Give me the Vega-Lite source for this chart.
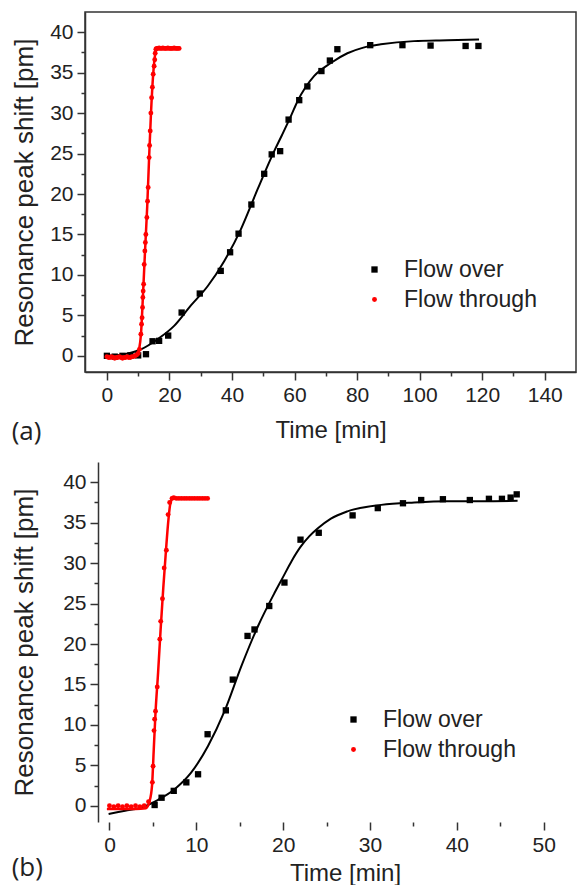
{
  "$schema": "https://vega.github.io/schema/vega-lite/v6.json",
  "padding": {"left": 10, "top": 11, "right": 0, "bottom": 0},
  "autosize": {"type": "pad"},
  "background": "white",
  "spacing": 16,
  "resolve": {
    "scale": {"color": "independent", "shape": "independent", "size": "independent"},
    "legend": {"color": "independent", "shape": "independent", "size": "independent"}
  },
  "config": {
    "view": {"stroke": null},
    "font": "Liberation Sans",
    "axis": {
      "grid": false,
      "domainColor": "#333",
      "domainWidth": 1.5,
      "tickColor": "#333",
      "tickWidth": 1.5,
      "labelFont": "Liberation Sans",
      "labelFontSize": 21,
      "labelColor": "#222",
      "labelOverlap": false,
      "labelFlush": false,
      "titleFont": "Liberation Sans",
      "titleFontSize": 24,
      "titleFontWeight": "normal",
      "titleColor": "#222"
    },
    "legend": {
      "labelFont": "Liberation Sans",
      "labelFontSize": 23,
      "labelColor": "#222"
    }
  },
  "datasets": {
    "a_pts": [
      {"series": "Flow over", "t": 0, "v": 0},
      {"series": "Flow over", "t": 2.5, "v": -0.1},
      {"series": "Flow over", "t": 5, "v": 0},
      {"series": "Flow over", "t": 7.5, "v": 0.05},
      {"series": "Flow over", "t": 10, "v": 0.05},
      {"series": "Flow over", "t": 12.5, "v": 0.2},
      {"series": "Flow over", "t": 14.6, "v": 1.8},
      {"series": "Flow over", "t": 16.7, "v": 1.85},
      {"series": "Flow over", "t": 19.6, "v": 2.5},
      {"series": "Flow over", "t": 23.9, "v": 5.35},
      {"series": "Flow over", "t": 29.7, "v": 7.7},
      {"series": "Flow over", "t": 36.4, "v": 10.5},
      {"series": "Flow over", "t": 39.4, "v": 12.8},
      {"series": "Flow over", "t": 42.1, "v": 15.1},
      {"series": "Flow over", "t": 46.2, "v": 18.7},
      {"series": "Flow over", "t": 50.3, "v": 22.5},
      {"series": "Flow over", "t": 52.7, "v": 24.9},
      {"series": "Flow over", "t": 55.4, "v": 25.3},
      {"series": "Flow over", "t": 58.1, "v": 29.2},
      {"series": "Flow over", "t": 61.5, "v": 31.6},
      {"series": "Flow over", "t": 64.1, "v": 33.3},
      {"series": "Flow over", "t": 68.6, "v": 35.2},
      {"series": "Flow over", "t": 71.3, "v": 36.5},
      {"series": "Flow over", "t": 73.7, "v": 37.9},
      {"series": "Flow over", "t": 84.2, "v": 38.4},
      {"series": "Flow over", "t": 94.5, "v": 38.4},
      {"series": "Flow over", "t": 103.5, "v": 38.35},
      {"series": "Flow over", "t": 114.7, "v": 38.3},
      {"series": "Flow over", "t": 118.8, "v": 38.3},
      {"series": "Flow through", "t": 0, "v": -0.1},
      {"series": "Flow through", "t": 0.5, "v": -0.2},
      {"series": "Flow through", "t": 1, "v": -0.2},
      {"series": "Flow through", "t": 1.5, "v": -0.1},
      {"series": "Flow through", "t": 2, "v": -0.2},
      {"series": "Flow through", "t": 2.5, "v": -0.3},
      {"series": "Flow through", "t": 3, "v": -0.2},
      {"series": "Flow through", "t": 3.5, "v": -0.2},
      {"series": "Flow through", "t": 4, "v": -0.1},
      {"series": "Flow through", "t": 4.5, "v": -0.2},
      {"series": "Flow through", "t": 5, "v": -0.3},
      {"series": "Flow through", "t": 5.5, "v": -0.2},
      {"series": "Flow through", "t": 6, "v": -0.2},
      {"series": "Flow through", "t": 6.5, "v": -0.1},
      {"series": "Flow through", "t": 7, "v": -0.2},
      {"series": "Flow through", "t": 7.5, "v": -0.2},
      {"series": "Flow through", "t": 8, "v": -0.1},
      {"series": "Flow through", "t": 8.5, "v": -0.1},
      {"series": "Flow through", "t": 9, "v": 0},
      {"series": "Flow through", "t": 9.5, "v": 0.1},
      {"series": "Flow through", "t": 10, "v": 0.3},
      {"series": "Flow through", "t": 10.4, "v": 0.8},
      {"series": "Flow through", "t": 10.87, "v": 2.67},
      {"series": "Flow through", "t": 11.08, "v": 3.9},
      {"series": "Flow through", "t": 11.25, "v": 4.7},
      {"series": "Flow through", "t": 11.4, "v": 5.97},
      {"series": "Flow through", "t": 11.5, "v": 7.2},
      {"series": "Flow through", "t": 11.6, "v": 8.0},
      {"series": "Flow through", "t": 11.75, "v": 8.85},
      {"series": "Flow through", "t": 11.93, "v": 11.3},
      {"series": "Flow through", "t": 12.14, "v": 12.96},
      {"series": "Flow through", "t": 12.3, "v": 14.0},
      {"series": "Flow through", "t": 12.46, "v": 15.0},
      {"series": "Flow through", "t": 12.78, "v": 17.1},
      {"series": "Flow through", "t": 13.0, "v": 19.1},
      {"series": "Flow through", "t": 13.2, "v": 20.8},
      {"series": "Flow through", "t": 13.5, "v": 24.5},
      {"series": "Flow through", "t": 13.65, "v": 26.0},
      {"series": "Flow through", "t": 13.85, "v": 27.8},
      {"series": "Flow through", "t": 14.06, "v": 30.0},
      {"series": "Flow through", "t": 14.3, "v": 31.9},
      {"series": "Flow through", "t": 14.55, "v": 33.2},
      {"series": "Flow through", "t": 14.8, "v": 34.8},
      {"series": "Flow through", "t": 15.1, "v": 35.8},
      {"series": "Flow through", "t": 15.3, "v": 36.6},
      {"series": "Flow through", "t": 15.45, "v": 37.4},
      {"series": "Flow through", "t": 15.66, "v": 37.9},
      {"series": "Flow through", "t": 15.9, "v": 38.0},
      {"series": "Flow through", "t": 16.3, "v": 38.0},
      {"series": "Flow through", "t": 16.7, "v": 38.05},
      {"series": "Flow through", "t": 17.1, "v": 38.0},
      {"series": "Flow through", "t": 17.5, "v": 38.0},
      {"series": "Flow through", "t": 17.9, "v": 38.05},
      {"series": "Flow through", "t": 18.3, "v": 38.0},
      {"series": "Flow through", "t": 18.7, "v": 38.0},
      {"series": "Flow through", "t": 19.1, "v": 38.0},
      {"series": "Flow through", "t": 19.5, "v": 38.05},
      {"series": "Flow through", "t": 19.9, "v": 38.0},
      {"series": "Flow through", "t": 20.3, "v": 38.0},
      {"series": "Flow through", "t": 20.7, "v": 38.0},
      {"series": "Flow through", "t": 21.1, "v": 38.0},
      {"series": "Flow through", "t": 21.5, "v": 38.05},
      {"series": "Flow through", "t": 21.9, "v": 38.0},
      {"series": "Flow through", "t": 22.3, "v": 38.0},
      {"series": "Flow through", "t": 22.7, "v": 38.0},
      {"series": "Flow through", "t": 23.1, "v": 38.0}
    ],
    "a_fit": [
      {"series": "Flow over", "t": 0, "v": 0},
      {"series": "Flow over", "t": 5.5, "v": 0.2},
      {"series": "Flow over", "t": 10.9, "v": 0.8},
      {"series": "Flow over", "t": 16.2, "v": 2.05},
      {"series": "Flow over", "t": 21.5, "v": 3.7},
      {"series": "Flow over", "t": 26.8, "v": 6.2},
      {"series": "Flow over", "t": 32.2, "v": 8.6},
      {"series": "Flow over", "t": 37.5, "v": 11.7},
      {"series": "Flow over", "t": 42.8, "v": 15.6},
      {"series": "Flow over", "t": 48.2, "v": 20.6},
      {"series": "Flow over", "t": 53.5, "v": 25.3},
      {"series": "Flow over", "t": 56, "v": 27.3},
      {"series": "Flow over", "t": 58.8, "v": 29.6},
      {"series": "Flow over", "t": 61, "v": 31.5},
      {"series": "Flow over", "t": 66.3, "v": 34.6},
      {"series": "Flow over", "t": 71.6, "v": 36.2},
      {"series": "Flow over", "t": 76.9, "v": 37.4},
      {"series": "Flow over", "t": 82, "v": 38.1},
      {"series": "Flow over", "t": 87.6, "v": 38.5},
      {"series": "Flow over", "t": 98.2, "v": 38.9},
      {"series": "Flow over", "t": 108.9, "v": 39.0},
      {"series": "Flow over", "t": 119, "v": 39.1},
      {"series": "Flow through", "t": 0, "v": -0.2},
      {"series": "Flow through", "t": 5, "v": -0.2},
      {"series": "Flow through", "t": 8.5, "v": -0.15},
      {"series": "Flow through", "t": 9.7, "v": 0.1},
      {"series": "Flow through", "t": 10.3, "v": 0.8},
      {"series": "Flow through", "t": 10.9, "v": 2.7},
      {"series": "Flow through", "t": 11.6, "v": 8.0},
      {"series": "Flow through", "t": 12.2, "v": 13.0},
      {"series": "Flow through", "t": 12.9, "v": 18.5},
      {"series": "Flow through", "t": 13.5, "v": 24.5},
      {"series": "Flow through", "t": 14.1, "v": 30.0},
      {"series": "Flow through", "t": 14.8, "v": 34.8},
      {"series": "Flow through", "t": 15.3, "v": 36.9},
      {"series": "Flow through", "t": 15.7, "v": 37.8},
      {"series": "Flow through", "t": 16.3, "v": 38.0},
      {"series": "Flow through", "t": 23.1, "v": 38.0}
    ],
    "b_pts": [
      {"series": "Flow over", "t": 5.2, "v": 0.1},
      {"series": "Flow over", "t": 6.0, "v": 1.0},
      {"series": "Flow over", "t": 7.4, "v": 1.85},
      {"series": "Flow over", "t": 8.85, "v": 2.9},
      {"series": "Flow over", "t": 10.2, "v": 3.9},
      {"series": "Flow over", "t": 11.3, "v": 8.85},
      {"series": "Flow over", "t": 13.4, "v": 11.8},
      {"series": "Flow over", "t": 14.2, "v": 15.6},
      {"series": "Flow over", "t": 15.9, "v": 21.0},
      {"series": "Flow over", "t": 16.7, "v": 21.8},
      {"series": "Flow over", "t": 18.4, "v": 24.7},
      {"series": "Flow over", "t": 20.15, "v": 27.6},
      {"series": "Flow over", "t": 22.0, "v": 32.9},
      {"series": "Flow over", "t": 24.1, "v": 33.75},
      {"series": "Flow over", "t": 28.0, "v": 35.9},
      {"series": "Flow over", "t": 30.9, "v": 36.8},
      {"series": "Flow over", "t": 33.8, "v": 37.4},
      {"series": "Flow over", "t": 35.9, "v": 37.8},
      {"series": "Flow over", "t": 38.4, "v": 37.9},
      {"series": "Flow over", "t": 41.5, "v": 37.8},
      {"series": "Flow over", "t": 43.7, "v": 37.95},
      {"series": "Flow over", "t": 45.2, "v": 37.95},
      {"series": "Flow over", "t": 46.2, "v": 38.1},
      {"series": "Flow over", "t": 46.9, "v": 38.5},
      {"series": "Flow through", "t": 0, "v": 0},
      {"series": "Flow through", "t": 0.5, "v": -0.1},
      {"series": "Flow through", "t": 1, "v": 0},
      {"series": "Flow through", "t": 1.5, "v": -0.1},
      {"series": "Flow through", "t": 2, "v": 0},
      {"series": "Flow through", "t": 2.5, "v": -0.1},
      {"series": "Flow through", "t": 3, "v": 0},
      {"series": "Flow through", "t": 3.5, "v": -0.1},
      {"series": "Flow through", "t": 4, "v": 0},
      {"series": "Flow through", "t": 4.5, "v": 0.5},
      {"series": "Flow through", "t": 4.94, "v": 2.9},
      {"series": "Flow through", "t": 5.02, "v": 4.9},
      {"series": "Flow through", "t": 5.13, "v": 9.3},
      {"series": "Flow through", "t": 5.2, "v": 10.7},
      {"series": "Flow through", "t": 5.3, "v": 11.7},
      {"series": "Flow through", "t": 5.5, "v": 14.7},
      {"series": "Flow through", "t": 5.8, "v": 20.6},
      {"series": "Flow through", "t": 5.9, "v": 22.8},
      {"series": "Flow through", "t": 6.1, "v": 25.6},
      {"series": "Flow through", "t": 6.3, "v": 29.4},
      {"series": "Flow through", "t": 6.55, "v": 31.6},
      {"series": "Flow through", "t": 6.75, "v": 36.0},
      {"series": "Flow through", "t": 6.93, "v": 37.5},
      {"series": "Flow through", "t": 7.2, "v": 38.0},
      {"series": "Flow through", "t": 7.4, "v": 38.1},
      {"series": "Flow through", "t": 7.7, "v": 38.0},
      {"series": "Flow through", "t": 8.0, "v": 38.0},
      {"series": "Flow through", "t": 8.3, "v": 38.0},
      {"series": "Flow through", "t": 8.6, "v": 38.0},
      {"series": "Flow through", "t": 8.9, "v": 38.0},
      {"series": "Flow through", "t": 9.2, "v": 38.0},
      {"series": "Flow through", "t": 9.5, "v": 38.0},
      {"series": "Flow through", "t": 9.8, "v": 38.0},
      {"series": "Flow through", "t": 10.1, "v": 38.0},
      {"series": "Flow through", "t": 10.4, "v": 38.0},
      {"series": "Flow through", "t": 10.7, "v": 38.0},
      {"series": "Flow through", "t": 11.0, "v": 38.0},
      {"series": "Flow through", "t": 11.3, "v": 38.0}
    ],
    "b_fit": [
      {"series": "Flow over", "t": -0.1, "v": -1.0},
      {"series": "Flow over", "t": 1.8, "v": -0.6},
      {"series": "Flow over", "t": 3.7, "v": -0.2},
      {"series": "Flow over", "t": 5.6, "v": 0.75},
      {"series": "Flow over", "t": 7.5, "v": 2.06},
      {"series": "Flow over", "t": 9.4, "v": 4.1},
      {"series": "Flow over", "t": 11.35, "v": 7.4},
      {"series": "Flow over", "t": 13.25, "v": 11.7},
      {"series": "Flow over", "t": 15.2, "v": 17.3},
      {"series": "Flow over", "t": 17.1, "v": 22.2},
      {"series": "Flow over", "t": 19.0, "v": 26.3},
      {"series": "Flow over", "t": 20.0, "v": 28.3},
      {"series": "Flow over", "t": 21.0, "v": 30.3},
      {"series": "Flow over", "t": 22.0, "v": 32.0},
      {"series": "Flow over", "t": 23.0, "v": 33.3},
      {"series": "Flow over", "t": 24.0, "v": 34.3},
      {"series": "Flow over", "t": 25.5, "v": 35.5},
      {"series": "Flow over", "t": 27.4, "v": 36.4},
      {"series": "Flow over", "t": 31.3, "v": 37.2},
      {"series": "Flow over", "t": 35.1, "v": 37.5},
      {"series": "Flow over", "t": 38.9, "v": 37.65},
      {"series": "Flow over", "t": 42.8, "v": 37.65},
      {"series": "Flow over", "t": 47.0, "v": 37.7},
      {"series": "Flow through", "t": -0.3, "v": -0.4},
      {"series": "Flow through", "t": 3.0, "v": -0.4},
      {"series": "Flow through", "t": 4.2, "v": -0.3},
      {"series": "Flow through", "t": 4.6, "v": 0.5},
      {"series": "Flow through", "t": 4.9, "v": 2.5},
      {"series": "Flow through", "t": 5.1, "v": 7.0},
      {"series": "Flow through", "t": 5.3, "v": 11.5},
      {"series": "Flow through", "t": 5.6, "v": 16.5},
      {"series": "Flow through", "t": 5.9, "v": 22.0},
      {"series": "Flow through", "t": 6.2, "v": 27.0},
      {"series": "Flow through", "t": 6.5, "v": 31.5},
      {"series": "Flow through", "t": 6.8, "v": 35.5},
      {"series": "Flow through", "t": 7.0, "v": 37.3},
      {"series": "Flow through", "t": 7.3, "v": 38.0},
      {"series": "Flow through", "t": 11.4, "v": 38.0}
    ]
  },
  "vconcat": [
    {
      "width": 491,
      "height": 360,
      "view": {"stroke": "#333", "strokeWidth": 1.5},
      "title": {"text": "(a)", "orient": "bottom", "anchor": "start", "frame": "bounds", "offset": -23, "font": "Open Sans", "fontSize": 26, "fontWeight": "normal", "color": "#222"},
      "encoding": {
        "x": {"field": "t", "type": "quantitative",
          "scale": {"domain": [-7, 150], "nice": false, "zero": false},
          "axis": {"title": "Time [min]", "values": [0,10,20,30,40,50,60,70,80,90,100,110,120,130,140],
            "labelExpr": "datum.value % 20 === 0 ? datum.label : ''",
            "tickSize": {"condition": {"test": "datum.value % 20 === 0", "value": 8}, "value": 4},
            "labelPadding": 4, "titlePadding": 13}},
        "y": {"field": "v", "type": "quantitative",
          "scale": {"domain": [-2, 42.5], "nice": false, "zero": false},
          "axis": {"title": "Resonance peak shift [pm]", "titleFontSize": 26, "values": [0,2.5,5,7.5,10,12.5,15,17.5,20,22.5,25,27.5,30,32.5,35,37.5,40],
            "labelExpr": "datum.value % 5 === 0 ? datum.label : ''",
            "tickSize": {"condition": {"test": "datum.value % 5 === 0", "value": 8}, "value": 4},
            "labelPadding": 4, "titlePadding": 12}}
      },
      "layer": [
        {"data": {"name": "a_fit"}, "transform": [{"filter": "datum.series === 'Flow over'"}],
          "mark": {"type": "line", "color": "#000", "strokeWidth": 2, "interpolate": "monotone"}},
        {"data": {"name": "a_fit"}, "transform": [{"filter": "datum.series === 'Flow through'"}],
          "mark": {"type": "line", "color": "#ff0000", "strokeWidth": 2.5, "interpolate": "monotone"}},
        {"data": {"name": "a_pts"},
          "mark": {"type": "point", "filled": true, "opacity": 1},
          "encoding": {
            "color": {"field": "series", "type": "nominal",
              "scale": {"domain": ["Flow over", "Flow through"], "range": ["#000000", "#ff0000"]},
              "legend": {"orient": "none", "legendX": 278, "legendY": 246, "title": null, "symbolSize": 36, "rowPadding": 6, "labelOffset": 18, "padding": 0, "symbolStrokeWidth": 0}},
            "shape": {"field": "series", "type": "nominal",
              "scale": {"domain": ["Flow over", "Flow through"], "range": ["square", "circle"]},
              "legend": {"orient": "none", "legendX": 278, "legendY": 246, "title": null, "symbolSize": 36, "rowPadding": 6, "labelOffset": 18, "padding": 0, "symbolStrokeWidth": 0}},
            "size": {"field": "series", "type": "nominal",
              "scale": {"domain": ["Flow over", "Flow through"], "range": [40, 24]}, "legend": null}
          }}
      ]
    },
    {
      "width": 499,
      "height": 360,
      "title": {"text": "(b)", "orient": "bottom", "anchor": "start", "frame": "bounds", "offset": -30, "font": "Open Sans", "fontSize": 26, "fontWeight": "normal", "color": "#222"},
      "encoding": {
        "x": {"field": "t", "type": "quantitative",
          "scale": {"domain": [-2.82, 54.65], "nice": false, "zero": false},
          "axis": {"title": "Time [min]", "values": [0,5,10,15,20,25,30,35,40,45,50],
            "labelExpr": "datum.value % 10 === 0 ? datum.label : ''",
            "tickSize": {"condition": {"test": "datum.value % 10 === 0", "value": 8}, "value": 4},
            "domain": false, "labelPadding": 4, "titlePadding": 6, "titleX": 260}},
        "y": {"field": "v", "type": "quantitative",
          "scale": {"domain": [-2, 42.5], "nice": false, "zero": false},
          "axis": {"title": "Resonance peak shift [pm]", "titleFontSize": 26, "values": [0,2.5,5,7.5,10,12.5,15,17.5,20,22.5,25,27.5,30,32.5,35,37.5,40],
            "labelExpr": "datum.value % 5 === 0 ? datum.label : ''",
            "tickSize": {"condition": {"test": "datum.value % 5 === 0", "value": 8}, "value": 4},
            "offset": -13, "labelPadding": 4, "titlePadding": 25}}
      },
      "layer": [
        {"mark": {"type": "rule", "color": "#333", "strokeWidth": 1.5},
          "encoding": {"x": {"datum": -1.34}, "x2": {"datum": 54.65}, "y": {"datum": 42.5}}},
        {"mark": {"type": "rule", "color": "#333", "strokeWidth": 1.5},
          "encoding": {"x": {"datum": -1.34}, "x2": {"datum": 54.65}, "y": {"datum": -2}}},
        {"data": {"name": "b_fit"}, "transform": [{"filter": "datum.series === 'Flow over'"}],
          "mark": {"type": "line", "color": "#000", "strokeWidth": 2, "interpolate": "monotone"}},
        {"data": {"name": "b_fit"}, "transform": [{"filter": "datum.series === 'Flow through'"}],
          "mark": {"type": "line", "color": "#ff0000", "strokeWidth": 2.5, "interpolate": "monotone"}},
        {"data": {"name": "b_pts"},
          "mark": {"type": "point", "filled": true, "opacity": 1},
          "encoding": {
            "color": {"field": "series", "type": "nominal",
              "scale": {"domain": ["Flow over", "Flow through"], "range": ["#000000", "#ff0000"]},
              "legend": {"orient": "none", "legendX": 257, "legendY": 246, "title": null, "symbolSize": 36, "rowPadding": 6, "labelOffset": 18, "padding": 0, "symbolStrokeWidth": 0}},
            "shape": {"field": "series", "type": "nominal",
              "scale": {"domain": ["Flow over", "Flow through"], "range": ["square", "circle"]},
              "legend": {"orient": "none", "legendX": 257, "legendY": 246, "title": null, "symbolSize": 36, "rowPadding": 6, "labelOffset": 18, "padding": 0, "symbolStrokeWidth": 0}},
            "size": {"field": "series", "type": "nominal",
              "scale": {"domain": ["Flow over", "Flow through"], "range": [40, 24]}, "legend": null}
          }}
      ]
    }
  ]
}
